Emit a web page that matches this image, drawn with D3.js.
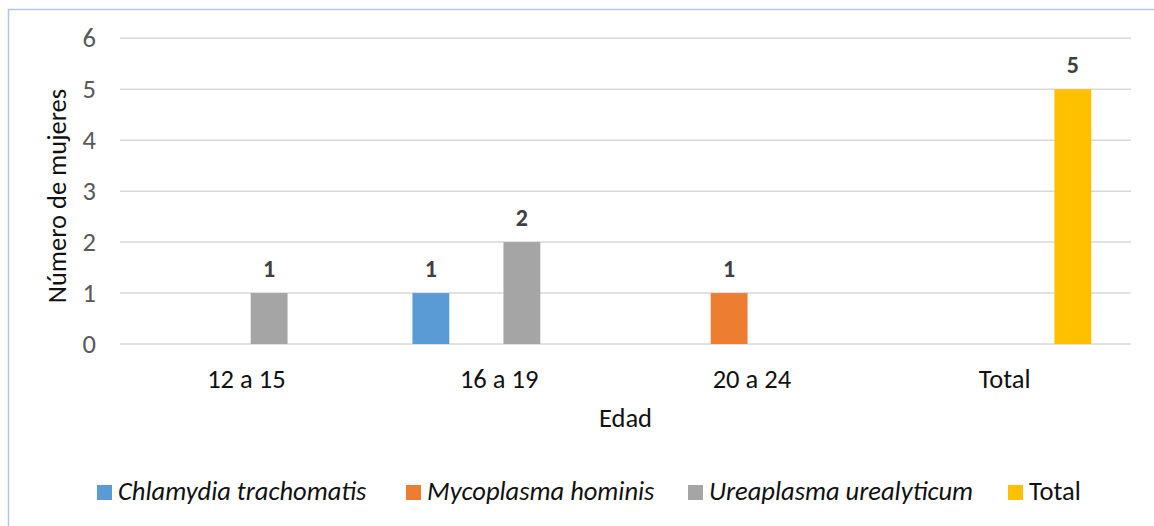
<!DOCTYPE html>
<html>
<head>
<meta charset="utf-8">
<script src="https://cdn.jsdelivr.net/npm/d3@7"></script>
<style>
  html, body { margin: 0; padding: 0; background: #fff; }
  svg { display: block; font-family: Carlito, Lato, "Open Sans", sans-serif; }
</style>
</head>
<body>
<svg id="chart" width="1154" height="526"></svg>
<script>
const categories = ["12 a 15", "16 a 19", "20 a 24", "Total"];
const seriesNames = ["Chlamydia trachomatis", "Mycoplasma hominis", "Ureaplasma urealyticum", "Total"];
const chlamydia  = [null, 1, null, null];
const mycoplasma = [null, null, 1, null];
const ureaplasma = [1, 2, null, null];
const totalVals  = [null, null, null, 5];
const yTicks = [0, 1, 2, 3, 4, 5, 6];
const colors = ["#5B9BD5", "#ED7D31", "#A5A5A5", "#FFC000"];
const italicLegend = [true, true, true, false];

const seriesValues = [chlamydia, mycoplasma, ureaplasma, totalVals];

const FONT = "Carlito, Lato, 'Open Sans', sans-serif";
const svg = d3.select("#chart");
const W = 1154, H = 526;
const plot = { left: 120, right: 1131, top: 38.3, bottom: 344 };

// outer border
svg.append("rect")
  .attr("x", 8.5).attr("y", 9.5)
  .attr("width", W + 20).attr("height", H + 20)
  .attr("fill", "none").attr("stroke", "#B4C7E7").attr("stroke-width", 1.5);

const y = d3.scaleLinear().domain([0, 6]).range([plot.bottom, plot.top]);
const x0 = d3.scaleBand().domain(categories).range([plot.left, plot.right]).padding(0);
const groupW = 182;
const x1 = d3.scaleBand().domain(d3.range(seriesNames.length))
  .range([0, groupW]).paddingInner(0.19).paddingOuter(0.095);

// gridlines
svg.append("g").selectAll("line").data(yTicks).join("line")
  .attr("x1", plot.left).attr("x2", plot.right)
  .attr("y1", d => y(d)).attr("y2", d => y(d))
  .attr("stroke", "#D9D9D9").attr("stroke-width", 1.5);

// y axis labels
const yAxis = d3.axisLeft(y).tickValues(yTicks).tickSize(0).tickPadding(0).tickFormat(d3.format("d"));
const gy = svg.append("g").attr("transform", `translate(96,0)`).call(yAxis);
gy.select(".domain").remove();
gy.selectAll("text").attr("fill", "#595959").style("font-size", "26.5px").style("font-family", FONT);

// x axis labels
const xAxis = d3.axisBottom(x0).tickSize(0).tickPadding(0);
const gx = svg.append("g").attr("transform", `translate(0,${plot.bottom + 25.5})`).call(xAxis);
gx.select(".domain").remove();
gx.selectAll("text").attr("fill", "#111").style("font-size", "26.5px").style("font-family", FONT);

// bars
const bars = [];
seriesValues.forEach((vals, si) => {
  vals.forEach((v, ci) => {
    if (v !== null && v !== undefined) bars.push({ si, ci, v });
  });
});
const offset = (x0.bandwidth() - groupW) / 2;
svg.append("g").selectAll("rect").data(bars).join("rect")
  .attr("x", d => x0(categories[d.ci]) + offset + x1(d.si))
  .attr("width", x1.bandwidth())
  .attr("y", d => y(d.v))
  .attr("height", d => y(0) - y(d.v))
  .attr("fill", d => colors[d.si]);

// data labels
svg.append("g").selectAll("text").data(bars).join("text")
  .attr("x", d => x0(categories[d.ci]) + offset + x1(d.si) + x1.bandwidth() / 2)
  .attr("y", d => y(d.v) - 16.3)
  .attr("text-anchor", "middle")
  .attr("fill", "#404040")
  .style("font-size", "24px").style("font-weight", "bold")
  .text(d => d.v);

// axis titles
svg.append("text")
  .attr("x", (plot.left + plot.right) / 2).attr("y", 427)
  .attr("text-anchor", "middle").attr("fill", "#111")
  .style("font-size", "26.5px").text("Edad");

svg.append("text")
  .attr("transform", `translate(66,196) rotate(-90)`)
  .attr("text-anchor", "middle").attr("fill", "#111")
  .style("font-size", "26.5px").text("Número de mujeres");

// legend
const legendX = [97, 406, 688, 1008];
const legend = svg.append("g").selectAll("g").data(seriesNames).join("g")
  .attr("transform", (d, i) => `translate(${legendX[i]},485)`);
legend.append("rect").attr("width", 15).attr("height", 15).attr("fill", (d, i) => colors[i]);
legend.append("text").attr("x", 21).attr("y", 15)
  .attr("fill", "#111").style("font-size", "26.5px")
  .style("font-style", (d, i) => italicLegend[i] ? "italic" : "normal")
  .text(d => d);
</script>
</body>
</html>
